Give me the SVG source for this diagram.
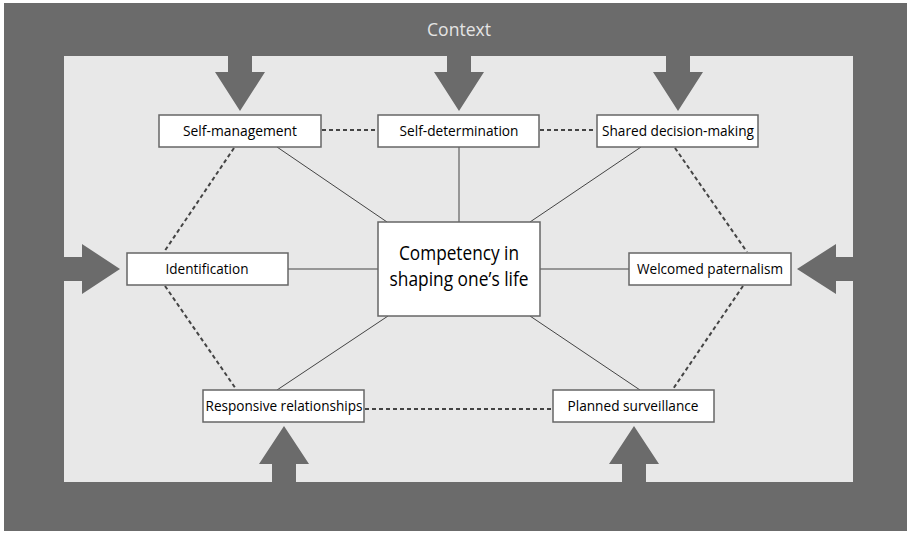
<svg xmlns="http://www.w3.org/2000/svg" width="907" height="533" viewBox="0 0 907 533">
  <style>
    .frame { fill: #6b6b6b; }
    .field { fill: #e8e8e8; }
    .box { fill: #ffffff; stroke: #666666; stroke-width: 1.5; }
    .label { font-family: "Open Sans", "Liberation Sans", sans-serif; font-size: 15px; fill: #000000; text-anchor: middle; }
    .core { font-family: "Open Sans", "Liberation Sans", sans-serif; font-size: 20px; fill: #000000; text-anchor: middle; }
    .solid { stroke: #444444; stroke-width: 1; fill: none; }
    .dash { stroke: #444444; stroke-width: 2; stroke-dasharray: 4 3; fill: none; }
    .push { fill: #6b6b6b; }
  </style>

  <!-- context frame and inner field -->
  <rect x="0" y="0" width="907" height="533" fill="#ffffff"/>
  <rect class="frame" x="4" y="3" width="903" height="528"/>
  <rect class="field" x="64" y="56" width="789" height="426"/>
  <text x="459" y="36" font-family="'Open Sans', 'Liberation Sans', sans-serif" font-size="18" fill="#e4e4e4" text-anchor="middle" textLength="64" lengthAdjust="spacingAndGlyphs">Context</text>

  <!-- context influence arrows -->
  <g id="influences">
    <polygon class="push" points="228,55 252,55 252,72 265,72 240,111 215,72 228,72"/>
    <polygon class="push" points="447,55 471,55 471,72 484,72 459,111 434,72 447,72"/>
    <polygon class="push" points="666,55 690,55 690,72 703,72 678,111 653,72 666,72"/>
    <polygon class="push" points="63,257 82,257 82,244 120,269 82,294 82,281 63,281"/>
    <polygon class="push" points="854,257 836,257 836,244 797,269 836,294 836,281 854,281"/>
    <polygon class="push" points="272,483 272,464 259,464 284,426 309,464 296,464 296,483"/>
    <polygon class="push" points="622,483 622,464 609,464 634,426 659,464 646,464 646,483"/>
  </g>

  <!-- connectors -->
  <g id="connectors">
    <line class="solid" x1="277" y1="147" x2="387" y2="222"/>
    <line class="solid" x1="459" y1="147" x2="459" y2="222"/>
    <line class="solid" x1="641" y1="147" x2="530" y2="222"/>
    <line class="solid" x1="288" y1="269" x2="378" y2="269"/>
    <line class="solid" x1="540" y1="269" x2="629" y2="269"/>
    <line class="solid" x1="388" y1="316" x2="277" y2="390"/>
    <line class="solid" x1="530" y1="316" x2="640" y2="390"/>

    <line class="dash" x1="322" y1="130" x2="377" y2="130"/>
    <line class="dash" x1="540" y1="130" x2="596" y2="130"/>
    <line class="dash" x1="234" y1="148" x2="164" y2="252"/>
    <line class="dash" x1="165" y1="286" x2="236" y2="389"/>
    <line class="dash" x1="675" y1="148" x2="747" y2="252"/>
    <line class="dash" x1="743" y1="286" x2="673" y2="389"/>
    <line class="dash" x1="365" y1="409" x2="552" y2="409"/>
  </g>

  <!-- nodes -->
  <g id="self-management">
    <rect class="box" x="159" y="115" width="162" height="32"/>
    <text class="label" x="240" y="136" textLength="114" lengthAdjust="spacingAndGlyphs">Self-management</text>
  </g>
  <g id="self-determination">
    <rect class="box" x="378" y="115" width="161" height="32"/>
    <text class="label" x="459" y="136" textLength="119" lengthAdjust="spacingAndGlyphs">Self-determination</text>
  </g>
  <g id="shared-decision-making">
    <rect class="box" x="597" y="115" width="161" height="32"/>
    <text class="label" x="678" y="136" textLength="152" lengthAdjust="spacingAndGlyphs">Shared decision-making</text>
  </g>
  <g id="identification">
    <rect class="box" x="127" y="253" width="161" height="32"/>
    <text class="label" x="207" y="274" textLength="83" lengthAdjust="spacingAndGlyphs">Identification</text>
  </g>
  <g id="competency">
    <rect class="box" x="378" y="222" width="162" height="94"/>
    <text class="core" x="459" y="260" textLength="120" lengthAdjust="spacingAndGlyphs">Competency in</text>
    <text class="core" x="459" y="286" textLength="139" lengthAdjust="spacingAndGlyphs">shaping one’s life</text>
  </g>
  <g id="welcomed-paternalism">
    <rect class="box" x="629" y="253" width="162" height="32"/>
    <text class="label" x="710" y="274" textLength="146" lengthAdjust="spacingAndGlyphs">Welcomed paternalism</text>
  </g>
  <g id="responsive-relationships">
    <rect class="box" x="203" y="390" width="161" height="32"/>
    <text class="label" x="284" y="411" textLength="157" lengthAdjust="spacingAndGlyphs">Responsive relationships</text>
  </g>
  <g id="planned-surveillance">
    <rect class="box" x="553" y="390" width="161" height="32"/>
    <text class="label" x="633" y="411" textLength="131" lengthAdjust="spacingAndGlyphs">Planned surveillance</text>
  </g>
</svg>
